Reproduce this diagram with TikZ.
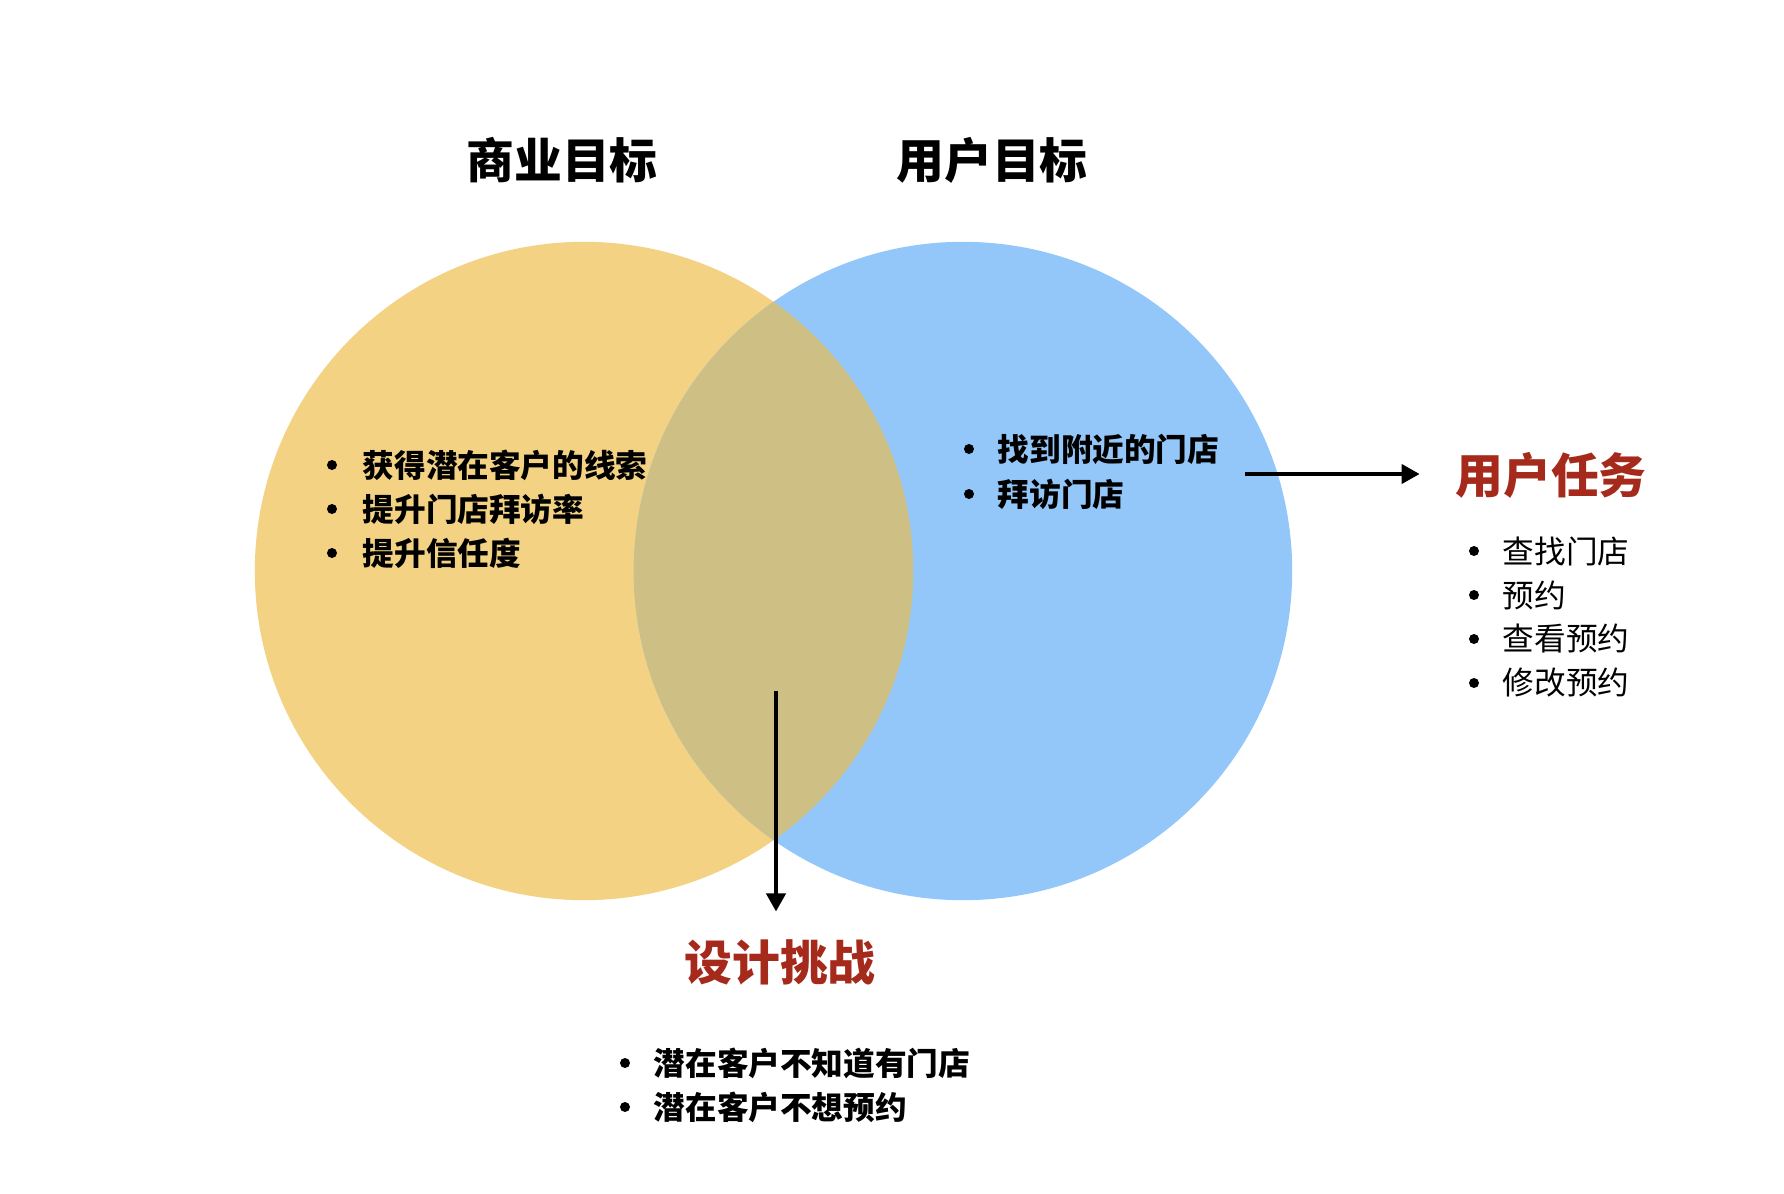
\documentclass[tikz,border=0pt]{standalone}
\usepackage{fontspec}
\setmainfont{Noto Sans CJK SC}
\usepackage{tikz}
\usetikzlibrary{arrows.meta}
\definecolor{bizyellow}{RGB}{243,210,131}
\definecolor{userblue}{RGB}{147,198,249}
\definecolor{mixolive}{RGB}{206,192,132}
\definecolor{taskred}{RGB}{165,42,28}

\begin{document}
\begin{tikzpicture}[x=0.01cm,y=-0.01cm,
  head/.style={inner sep=0pt,font=\fontsize{13.6}{16}\selectfont\bfseries},
  item/.style={anchor=west,inner sep=0pt,font=\fontsize{9}{11}\selectfont\bfseries},
  plainitem/.style={item,font=\fontsize{9}{11}\selectfont},
  arr/.style={line width=0.04cm,-{Triangle[length=0.18cm,width=0.19cm]}}]
  \useasboundingbox (0,0) rectangle (1784,1194);
  % the two goal circles, overlap filled on its own
  \coordinate (biz) at (584,571);
  \coordinate (usr) at (963,571);
  \fill[bizyellow] (biz) circle[radius=3.29cm];
  \fill[userblue] (usr) circle[radius=3.29cm];
  \begin{scope}
    \clip (biz) circle[radius=3.29cm];
    \fill[mixolive] (usr) circle[radius=3.29cm];
  \end{scope}
  % headings
  \node[head] (bizhead) at (562,160) {商业目标};
  \node[head] (usrhead) at (992,160) {用户目标};
  \node[head,text=taskred] (task) at (1551,475) {用户任务};
  \node[head,text=taskred] (design) at (780,962) {设计挑战};
  % bullet lists
  \foreach \t [count=\i] in {获得潜在客户的线索,提升门店拜访率,提升信任度}{
    \node[item] (bizitem\i) at (362,{465+44*(\i-1)}) {\t};
    \fill ([xshift=-0.3cm]bizitem\i.west) circle[radius=0.05cm];
  }
  \foreach \t [count=\i] in {找到附近的门店,拜访门店}{
    \node[item] (usritem\i) at (997,{449+45*(\i-1)}) {\t};
    \fill ([xshift=-0.28cm]usritem\i.west) circle[radius=0.05cm];
  }
  \foreach \t [count=\i] in {查找门店,预约,查看预约,修改预约}{
    \node[plainitem] (taskitem\i) at (1502,{551+44*(\i-1)}) {\t};
    \fill ([xshift=-0.28cm]taskitem\i.west) circle[radius=0.05cm];
  }
  \foreach \t [count=\i] in {潜在客户不知道有门店,潜在客户不想预约}{
    \node[item] (designitem\i) at (653,{1063+44*(\i-1)}) {\t};
    \fill ([xshift=-0.28cm]designitem\i.west) circle[radius=0.05cm];
  }
  % arrows out of the circles
  \coordinate (mid) at (776,691);
  \coordinate (usrside) at (1245,474);
  \draw[arr] (mid) -- ([yshift=0.27cm]mid |- design.north);
  \draw[arr] (usrside) -- ([xshift=-0.35cm]usrside -| task.west);
\end{tikzpicture}
\end{document}
